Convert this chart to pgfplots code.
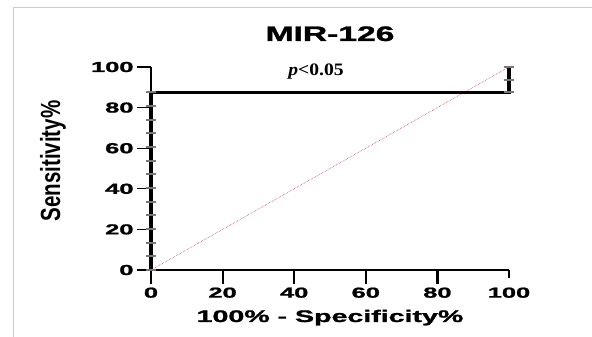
\documentclass[border=0pt]{standalone}
\usepackage{pgfplots}
\pgfplotsset{compat=1.18}
\usepackage{fontspec}
\setmainfont{Liberation Sans}
\newfontfamily\heavy{Liberation Sans}[BoldFeatures={FakeBold=1.2}]
\newfontfamily\serifb{Liberation Serif}
\usepackage{graphicx}
\definecolor{framegray}{RGB}{205,205,205}
\definecolor{diagred}{RGB}{195,70,80}
\definecolor{markgray}{RGB}{120,120,120}
\begin{document}
\begin{tikzpicture}
\useasboundingbox (0,0) rectangle (592pt,337pt);
\draw[framegray, line width=0.8pt] (13pt,0) -- (13pt,330pt) -- (592pt,330pt);
\begin{axis}[
  at={(151pt,67pt)}, anchor=south west,
  scale only axis, width=358pt, height=203pt,
  xmin=0, xmax=100, ymin=0, ymax=100,
  axis x line=bottom, axis y line=left,
  axis line style={line width=1.5pt, -},
  hide obscured x ticks=false, hide obscured y ticks=false,
  xtick={0,20,...,100}, ytick={0,20,...,100},
  minor tick num=0,
  xtick align=outside, ytick align=outside,
  major tick length=14pt,
  xtick style={line width=2.2pt, black, shorten <=6pt},
  ytick style={line width=1.3pt, black},
  /pgf/number format/assume math mode=true,
  xticklabel={\scalebox{1.75}[1]{\fontsize{14.5}{16}\selectfont\heavy\bfseries\pgfmathprintnumber{\tick}}},
  yticklabel={\scalebox{1.75}[1]{\fontsize{14.5}{16}\selectfont\heavy\bfseries\pgfmathprintnumber{\tick}}},
  clip=false,
]
% diagonal reference line
\addplot[diagred, line width=0.6pt, densely dotted] coordinates {(0,0) (100,100)};
% point markers
\addplot[only marks, mark=-, mark size=5pt, markgray, mark options={line width=2pt}] coordinates {
(0,0) (0,6.73) (0,13.46) (0,20.19) (0,26.92) (0,33.65) (0,40.38) (0,47.12)
(0,53.85) (0,60.58) (0,67.31) (0,74.04) (0,80.77) (0,87.5)
(100,87.5) (100,93.75) (100,100)};
% ROC curve
\addplot[black, line width=3.5pt] coordinates {(0,0) (0,87.5)};
\addplot[black, line width=2.6pt] coordinates {(-0.5,87.5) (100.5,87.5)};
\addplot[black, line width=3.5pt] coordinates {(100,87.5) (100,100)};
\node[anchor=base] at (axis cs:46.1,96.0) {\scalebox{1.12}[1]{\fontsize{17.5}{20}\selectfont\serifb\bfseries\itshape p\upshape<0.05}};
\node[anchor=base] at ([yshift=26pt]rel axis cs:0.5,1) {\scalebox{1.6}[1]{\fontsize{21}{24}\selectfont\heavy\bfseries MIR-126}};
\node[anchor=base] at ([yshift=-52pt]rel axis cs:0.5,0) {\scalebox{1.7}[1]{\fontsize{16.8}{19}\selectfont\heavy\bfseries 100\% - Specificity\%}};
\node[rotate=90, anchor=center] at ([xshift=-98pt]rel axis cs:0,0.537) {\scalebox{1}[1.35]{\fontsize{20.5}{23}\selectfont\bfseries Sensitivity\%}};
\end{axis}
\end{tikzpicture}
\end{document}
